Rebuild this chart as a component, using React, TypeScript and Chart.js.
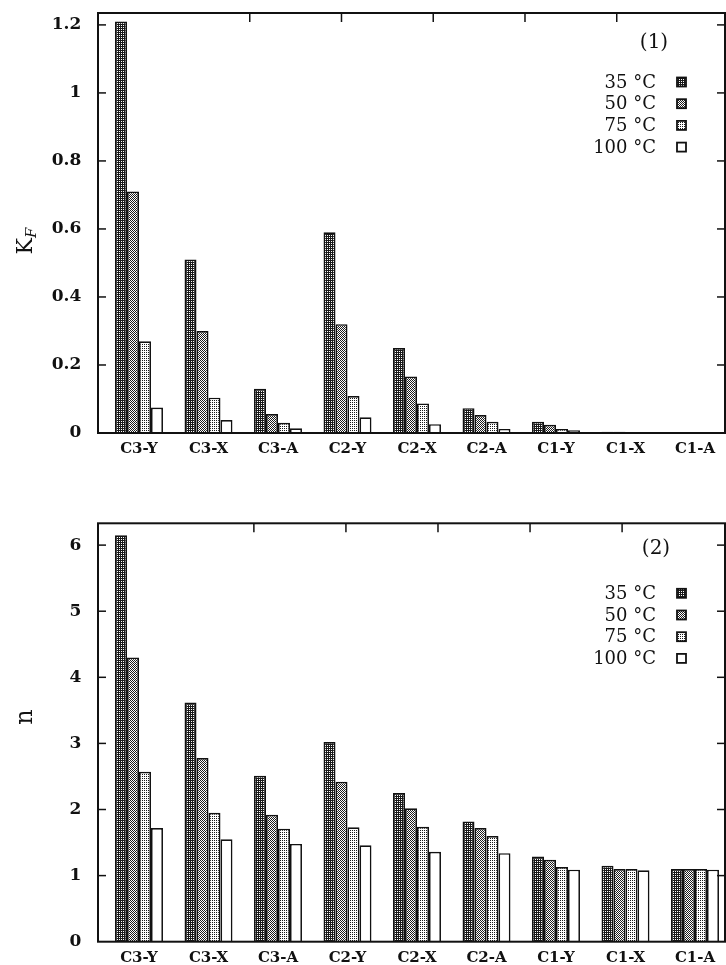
import { useEffect, useRef } from "react";
import { Chart, registerables } from "chart.js";
import type { Plugin } from "chart.js";

Chart.register(...registerables);

// Sample groups along the category axis
const categories = ["C3-Y", "C3-X", "C3-A", "C2-Y", "C2-X", "C2-A", "C1-Y", "C1-X", "C1-A"];
const seriesLabels = ["35 °C", "50 °C", "75 °C", "100 °C"];

// Panel (1): Freundlich constant K_F
const kf35 = [1.21, 0.51, 0.13, 0.59, 0.25, 0.073, 0.033, 0.004, 0.003];
const kf50 = [0.71, 0.30, 0.056, 0.32, 0.166, 0.053, 0.024, 0.004, 0.003];
const kf75 = [0.27, 0.104, 0.030, 0.109, 0.087, 0.033, 0.012, 0.003, 0.002];
const kf100 = [0.075, 0.038, 0.014, 0.046, 0.026, 0.012, 0.008, 0.003, 0.002];
const kfTicks = [0, 0.2, 0.4, 0.6, 0.8, 1, 1.2];

// Panel (2): Freundlich exponent n
const n35 = [6.15, 3.62, 2.51, 3.02, 2.25, 1.82, 1.29, 1.15, 1.10];
const n50 = [4.30, 2.78, 1.92, 2.42, 2.02, 1.72, 1.24, 1.10, 1.10];
const n75 = [2.57, 1.95, 1.71, 1.73, 1.74, 1.60, 1.13, 1.10, 1.10];
const n100 = [1.72, 1.55, 1.48, 1.46, 1.36, 1.34, 1.09, 1.08, 1.09];
const nTicks = [0, 1, 2, 3, 4, 5, 6];

// Minor marks along the top edge of each frame
const topEdgeTicks = [0, 1, 2, 3, 4];

const SERIF = '"DejaVu Serif", "Liberation Serif", serif';
const INK = "#111";
const CANVAS_W = 732;
const Y_AXIS_W = 104.25;
const RIGHT_PAD = 2.25;
const FRAME_IN_L = 6.25;
const FRAME_IN_R = 4.75;
const TICK_LEN = 8;

// Halftone fills for the four temperatures (null = plain white)
const patternRows: (string[] | null)[] = [
  ["##", "#."],
  ["#.", ".#"],
  ["#.", ".."],
  null,
];

function makeFill(rows: string[] | null): CanvasPattern | string {
  if (!rows) return "#ffffff";
  const h = rows.length;
  const w = rows[0].length;
  const c = document.createElement("canvas");
  c.width = w;
  c.height = h;
  const g = c.getContext("2d")!;
  g.fillStyle = "#ffffff";
  g.fillRect(0, 0, w, h);
  g.fillStyle = "#1a1a1a";
  rows.forEach((r, y) =>
    r.split("").forEach((ch, x) => {
      if (ch === "#") g.fillRect(x, y, 1, 1);
    })
  );
  return g.createPattern(c, "repeat") || "#888";
}

type PanelSpec = {
  canvasHeight: number;
  spaceTop: number;
  spaceBottom: number;
  yMax: number;
  yTicks: number[];
  topRange: [number, number];
  series: number[][];
  tag: string;
  tagDx: number;
  tagDy: number;
  legendDy: number;
  titleX: number;
  titleY: number;
  drawTitle: (ctx: CanvasRenderingContext2D) => void;
};

function drawKF(ctx: CanvasRenderingContext2D) {
  ctx.font = `22px ${SERIF}`;
  const wK = ctx.measureText("K").width;
  ctx.font = `italic 15px ${SERIF}`;
  const wF = ctx.measureText("F").width;
  const start = -(wK + wF) / 2;
  ctx.textAlign = "left";
  ctx.textBaseline = "alphabetic";
  ctx.font = `22px ${SERIF}`;
  ctx.fillText("K", start, 8);
  ctx.font = `italic 15px ${SERIF}`;
  ctx.fillText("F", start + wK, 12);
}

function drawN(ctx: CanvasRenderingContext2D) {
  ctx.font = `24px ${SERIF}`;
  ctx.textAlign = "center";
  ctx.textBaseline = "alphabetic";
  ctx.fillText("n", 0, 6);
}

const kfPanel: PanelSpec = {
  canvasHeight: 470,
  spaceTop: 13,
  spaceBottom: 37,
  yMax: 1.235,
  yTicks: kfTicks,
  topRange: [-0.904, 4.55],
  series: [kf35, kf50, kf75, kf100],
  tag: "(1)",
  tagDx: 71,
  tagDy: 30,
  legendDy: 69,
  titleX: 24,
  titleY: 241,
  drawTitle: drawKF,
};

const nPanel: PanelSpec = {
  canvasHeight: 495,
  spaceTop: 53.3,
  spaceBottom: 23.3,
  yMax: 6.33,
  yTicks: nTicks,
  topRange: [-0.946, 4.49],
  series: [n35, n50, n75, n100],
  tag: "(2)",
  tagDx: 69,
  tagDy: 25,
  legendDy: 70,
  titleX: 26,
  titleY: 247,
  drawTitle: drawN,
};

function decorPlugin(spec: PanelSpec): Plugin<"bar"> {
  return {
    id: "panelDecor",
    afterDraw(chart) {
      const { ctx, chartArea: a, scales } = chart;
      const left = a.left - FRAME_IN_L;
      const right = a.right - FRAME_IN_R;
      const seg = (x1: number, y1: number, x2: number, y2: number) => {
        ctx.beginPath();
        ctx.moveTo(x1, y1);
        ctx.lineTo(x2, y2);
        ctx.stroke();
      };
      ctx.save();
      ctx.strokeStyle = INK;
      ctx.fillStyle = INK;

      // frame
      ctx.lineWidth = 2;
      ctx.strokeRect(left, a.top, right - left, a.bottom - a.top);

      // inward ticks on left/right
      ctx.lineWidth = 1.5;
      const ys = scales.y;
      ys.ticks.forEach((t) => {
        if (t.value === 0) return;
        const py = ys.getPixelForValue(t.value);
        seg(left, py, left + TICK_LEN, py);
        seg(right, py, right - TICK_LEN, py);
      });
      // inward ticks on top edge
      const xt = scales.xt;
      xt.ticks.forEach((t) => {
        const px = xt.getPixelForValue(t.value);
        seg(px, a.top, px, a.top + TICK_LEN + 1);
      });

      // panel tag
      ctx.font = `20px ${SERIF}`;
      ctx.textAlign = "center";
      ctx.textBaseline = "middle";
      ctx.fillText(spec.tag, right - spec.tagDx, a.top + spec.tagDy);

      // legend: right-aligned labels, swatch on the right
      const ds = chart.data.datasets;
      ctx.font = `18px ${SERIF}`;
      ds.forEach((d, i) => {
        const rowY = a.top + spec.legendDy + i * 21.7;
        ctx.textAlign = "right";
        ctx.textBaseline = "middle";
        ctx.fillStyle = INK;
        ctx.fillText(String(d.label), right - 69, rowY + 1);
        const sx = right - 48;
        const sy = rowY - 4.5;
        ctx.fillStyle = d.backgroundColor as any;
        ctx.fillRect(sx, sy, 9, 9);
        ctx.lineWidth = 1.8;
        ctx.strokeRect(sx, sy, 9, 9);
      });

      // rotated y-axis title
      ctx.fillStyle = INK;
      ctx.translate(spec.titleX, spec.titleY);
      ctx.rotate(-Math.PI / 2);
      spec.drawTitle(ctx);
      ctx.restore();
    },
  };
}

function Panel({ spec }: { spec: PanelSpec }) {
  const ref = useRef<HTMLCanvasElement>(null);
  useEffect(() => {
    const canvas = ref.current!;
    const fills = patternRows.map(makeFill);
    const chart = new Chart(canvas, {
      type: "bar",
      data: {
        labels: categories,
        datasets: spec.series.map((d, i) => ({
          label: seriesLabels[i],
          data: d,
          backgroundColor: fills[i] as any,
          borderColor: INK,
          borderWidth: 1.7,
          borderSkipped: "start" as const,
          barPercentage: 1,
          categoryPercentage: 0.69,
        })),
      },
      options: {
        responsive: false,
        animation: false,
        events: [],
        layout: { padding: { left: 0, right: RIGHT_PAD, top: 0, bottom: 0 } },
        plugins: {
          legend: { display: false },
          tooltip: { enabled: false },
          title: { display: false },
        },
        scales: {
          x: {
            type: "category",
            position: "bottom",
            offset: true,
            grid: { display: false, drawTicks: false },
            border: { display: false },
            ticks: {
              color: INK,
              font: { family: SERIF, size: 15, weight: "bold" },
              padding: 7,
              maxRotation: 0,
              autoSkip: false,
            },
            afterFit: (s: any) => {
              s.height = spec.spaceBottom;
              s.paddingLeft = 0;
              s.paddingRight = 0;
            },
          },
          xt: {
            type: "linear",
            position: "top",
            min: spec.topRange[0],
            max: spec.topRange[1],
            grid: { display: false, drawTicks: false },
            border: { display: false },
            ticks: { display: false },
            afterBuildTicks: (s: any) => {
              s.ticks = topEdgeTicks.map((v) => ({ value: v }));
            },
            afterFit: (s: any) => {
              s.height = spec.spaceTop;
              s.paddingLeft = 0;
              s.paddingRight = 0;
            },
          },
          y: {
            type: "linear",
            position: "left",
            min: 0,
            max: spec.yMax,
            grid: { display: false, drawTicks: false },
            border: { display: false },
            ticks: {
              color: INK,
              font: { family: SERIF, size: 17, weight: "bold" },
              padding: 23,
              callback: (v: any) => String(v),
            },
            afterBuildTicks: (s: any) => {
              s.ticks = spec.yTicks.map((v) => ({ value: v }));
            },
            afterFit: (s: any) => {
              s.width = Y_AXIS_W;
              s.paddingTop = 0;
              s.paddingBottom = 0;
            },
          },
        },
      },
      plugins: [decorPlugin(spec)],
    });
    return () => chart.destroy();
  }, [spec]);
  return (
    <canvas
      ref={ref}
      width={CANVAS_W}
      height={spec.canvasHeight}
      style={{ display: "block", width: CANVAS_W, height: spec.canvasHeight }}
    />
  );
}

export default function App() {
  return (
    <div
      style={{
        position: "absolute",
        left: 0,
        top: 0,
        width: 726,
        height: 965,
        overflow: "hidden",
        background: "#ffffff",
      }}
    >
      <Panel spec={kfPanel} />
      <Panel spec={nPanel} />
    </div>
  );
}
